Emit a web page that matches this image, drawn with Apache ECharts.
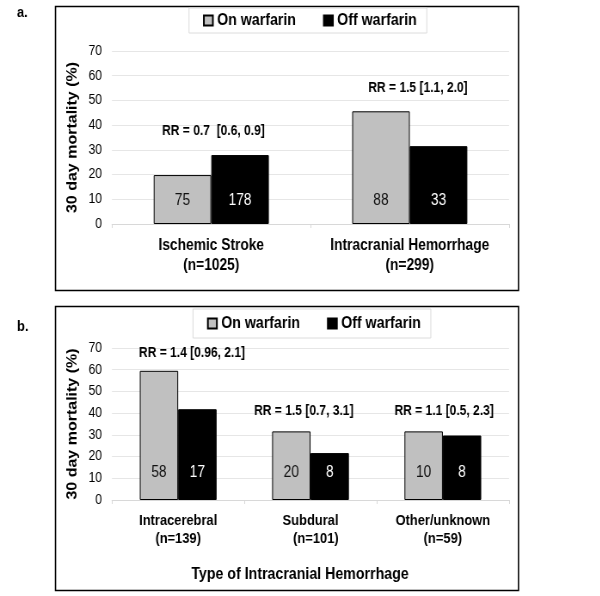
<!DOCTYPE html>
<html><head><meta charset="utf-8">
<script src="https://cdn.jsdelivr.net/npm/echarts@6/dist/echarts.min.js"></script>
<style>html,body{margin:0;padding:0;background:#fff;overflow:hidden;width:600px;height:596px}
#c{height:596px;transform-origin:0 0}</style>
</head><body><div id="c"></div>
<script>
// Panel a
const catsA = ['Ischemic Stroke\n(n=1025)', 'Intracranial Hemorrhage\n(n=299)'];
const onA = [19.8, 45.6];
const offA = [27.9, 31.5];
const onCountA = [75, 88];
const offCountA = [178, 33];
const rrTextA = ['RR = 0.7  [0.6, 0.9]', 'RR = 1.5 [1.1, 2.0]'];
const rrLevelA = [37.6, 55];
// Panel b
const catsB = ['Intracerebral\n(n=139)', 'Subdural\n   (n=101)', 'Other/unknown\n(n=59)'];
const onB = [59.5, 31.6, 31.6];
const offB = [41.8, 21.6, 29.7];
const onCountB = [58, 20, 10];
const offCountB = [17, 8, 8];
const rrTextB = ['RR = 1.4 [0.96, 2.1]', 'RR = 1.5 [0.7, 3.1]', 'RR = 1.1 [0.5, 2.3]'];
const rrLevelB = [67.8, 41, 41];
const yTicks = [0, 10, 20, 30, 40, 50, 60, 70];
const yTitle = '30 day mortality (%)';
const xTitleB = 'Type of Intracranial Hemorrhage';

// The reference picture is horizontally compressed; reproduce with a horizontal scale.
const S = 0.86;
const X = v => v / S;
const el = document.getElementById('c');
el.style.width = X(600) + 'px';
el.style.transform = 'scaleX(' + S + ')';

const FONT = 'Liberation Sans, Arial, sans-serif';
const GREY = '#c0c0c0';
const chart = echarts.init(el, null, {renderer: 'canvas'});

function yAxis(gi) {
  return {
    gridIndex: gi, type: 'value', min: yTicks[0], max: yTicks[yTicks.length - 1], interval: 10,
    name: yTitle, nameLocation: 'middle', nameGap: X(30),
    nameTextStyle: {fontFamily: FONT, fontWeight: 'bold', fontSize: 16, color: '#000'},
    axisLine: {show: false}, axisTick: {show: false},
    axisLabel: {fontFamily: FONT, fontSize: 14, color: '#000', margin: X(10)},
    splitLine: {lineStyle: {color: '#e6e6e6'}}
  };
}
function xAxis(gi, cats, fs, lh, margin, extra) {
  return Object.assign({
    gridIndex: gi, type: 'category', data: cats,
    axisLine: {lineStyle: {color: '#d8d8d8'}},
    axisTick: {show: true, lineStyle: {color: '#d8d8d8'}, length: 4},
    axisLabel: {interval: 0, fontFamily: FONT, fontWeight: 'bold', fontSize: fs, color: '#000', lineHeight: lh, margin: margin}
  }, extra || {});
}
function rrMark(texts, levels, offs) {
  return {
    symbol: 'rect', symbolSize: 0,
    label: {show: true, position: 'inside', fontFamily: FONT, fontWeight: 'bold', fontSize: 14, color: '#000',
      formatter: p => p.name},
    data: texts.map((t, i) => ({name: t, coord: [i, levels[i]], label: {offset: [X(offs[i]), 0]}}))
  };
}
function barSeries(name, gi, vals, counts, color, textColor, dist, mark) {
  const s = {
    name: name, type: 'bar', xAxisIndex: gi, yAxisIndex: gi, data: vals,
    barGap: '0%', barCategoryGap: '42%',
    itemStyle: {color: color, borderColor: '#000', borderWidth: 1},
    label: {show: true, position: 'insideBottom', distance: dist, fontFamily: FONT, fontSize: 16,
      color: textColor, formatter: p => String(counts[p.dataIndex])},
    animation: false
  };
  if (mark) s.markPoint = mark;
  return s;
}
function legend(left, top, pad) {
  return {
    left: X(left), top: top,
    itemWidth: X(9), itemHeight: 10, itemGap: X(27), icon: 'rect',
    borderColor: '#dcdcdc', borderWidth: 1, padding: [pad[0], X(pad[1]), pad[2], X(pad[3])],
    textStyle: {fontFamily: FONT, fontWeight: 'bold', fontSize: 16.5, color: '#000'},
    data: ['On warfarin', 'Off warfarin']
  };
}
chart.setOption({
  animation: false,
  backgroundColor: '#fff',
  legend: [legend(189, 8, [4, 10, 4, 14]), legend(193, 309, [6, 10, 6, 14])],
  grid: [
    {left: X(112), width: X(397), top: 51, height: 173},
    {left: X(112), width: X(397), top: 348, height: 152}
  ],
  xAxis: [
    xAxis(0, catsA, 16, 20, 12),
    xAxis(1, catsB, 15, 18, 12, {name: xTitleB, nameLocation: 'middle', nameGap: 66,
      nameTextStyle: {fontFamily: FONT, fontWeight: 'bold', fontSize: 16.5, color: '#000', padding: [0, X(21), 0, 0]}})
  ],
  yAxis: [yAxis(0), yAxis(1)],
  series: [
    barSeries('On warfarin', 0, onA, onCountA, GREY, '#111', 15, rrMark(rrTextA, rrLevelA, [31, 37])),
    barSeries('Off warfarin', 0, offA, offCountA, '#000', '#fff', 15),
    barSeries('On warfarin', 1, onB, onCountB, GREY, '#111', 19, rrMark(rrTextB, rrLevelB, [33, 12.5, 20.5])),
    barSeries('Off warfarin', 1, offB, offCountB, '#000', '#fff', 19)
  ],
  graphic: [
    {type: 'rect', shape: {x: X(55.5), y: 6.5, width: X(463), height: 284}, style: {fill: 'none', stroke: '#000', lineWidth: 1.6}, silent: true},
    {type: 'rect', shape: {x: X(55.5), y: 306.5, width: X(463), height: 284}, style: {fill: 'none', stroke: '#000', lineWidth: 1.6}, silent: true},
    {type: 'text', left: X(17), top: 5, style: {text: 'a.', fontFamily: FONT, fontWeight: 'bold', fontSize: 15, fill: '#000'}},
    {type: 'text', left: X(17), top: 319, style: {text: 'b.', fontFamily: FONT, fontWeight: 'bold', fontSize: 15, fill: '#000'}}
  ]
});
</script></body></html>
